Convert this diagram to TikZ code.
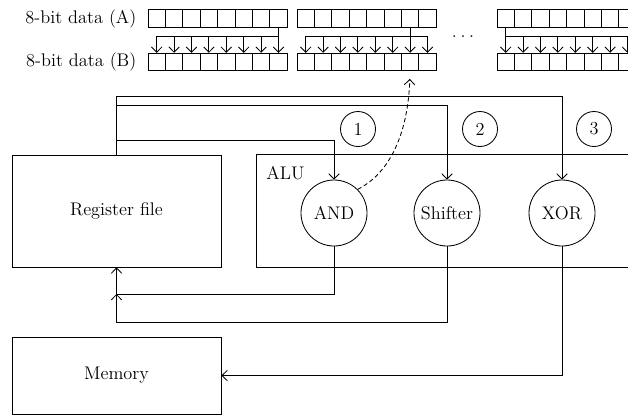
\documentclass[tikz,border=0pt]{standalone}
\usetikzlibrary{arrows.meta,positioning,calc}
\begin{document}
\begin{tikzpicture}[x=0.025cm,y=-0.025cm,>={Straight Barb[length=3.8pt,width=7.5pt]},
  line width=0.6pt,font=\fontsize{13}{15}\selectfont,
  cell/.style={draw,minimum width=0.435cm,minimum height=0.4375cm,inner sep=0pt},
  unit/.style={draw,circle,minimum size=1.65cm,inner sep=0pt},
  tag/.style={draw,circle,minimum size=0.875cm,inner sep=0pt},
  block/.style={draw,minimum width=5.225cm,inner sep=0pt}]
\useasboundingbox (0,0) rectangle (628,415);
\clip (0,0) rectangle (628,415);
\coordinate (bar) at (0,36);
\foreach \g/\gx/\src in {1/148/8,2/297/7,3/497/1}{
  \foreach \i in {1,...,8}{
    \node[cell] (a\g\i) at ({\gx+(\i-0.5)*17.4},18.5) {};
    \node[cell] (b\g\i) at ({\gx+(\i-0.5)*17.4},62) {};
  }
  \draw (a\g\src.south) -- (a\g\src |- bar) (a\g1 |- bar) -- (a\g8 |- bar);
  \foreach \i in {1,...,8}
    \draw[->] (b\g\i |- bar) -- (b\g\i.north);
}
\node[left=0.27cm of a11,inner sep=0pt] (la) {8-bit data (A)};
\node[left=0.27cm of b11,inner sep=0pt] (lb) {8-bit data (B)};
\node[inner sep=0pt] (dots) at (463,37) {.\hspace{2.6pt}.\hspace{2.6pt}.};
\node[block,minimum height=2.8cm] (regf) at (116.5,211) {Register file};
\node[block,minimum height=1.925cm] (mem) at (116.5,375.5) {Memory};
\node[draw,minimum width=11.6cm,minimum height=2.825cm,inner sep=0pt] (alu) at (488,210.5) {};
\node[anchor=west,inner sep=0pt] (alulbl) at (266,173) {ALU};
\node[unit] (andop) at (334,213) {AND};
\node[unit] (shifter) at (447,213) {Shifter};
\node[unit] (xorop) at (562,213) {XOR};
\node[tag] (t1) at (358,129) {1};
\node[tag] (t2) at (480,129) {2};
\node[tag] (t3) at (594,129) {3};
\coordinate (bus1) at (0,96);
\coordinate (bus2) at (0,105);
\coordinate (bus3) at (0,140);
\coordinate (ret1) at (0,294);
\coordinate (ret2) at (0,322);
\draw[->] (regf.north) -- (regf.north |- bus1) -| (xorop.north);
\draw[->] (regf.north |- bus2) -| (shifter.north);
\draw[->] (regf.north |- bus3) -| (andop.north);
\draw[->] (andop.south) |- (regf.south |- ret1) -- (regf.south);
\draw[->] (shifter.south) |- (regf.south |- ret2) -- (regf.south |- ret1);
\draw[->] (xorop.south) |- (mem.east);
\draw[->,dash pattern=on 3pt off 2pt,shorten >=5.5pt] (andop.45) .. controls (392,172) and (408,130) .. (b27.south);
\end{tikzpicture}
\end{document}
